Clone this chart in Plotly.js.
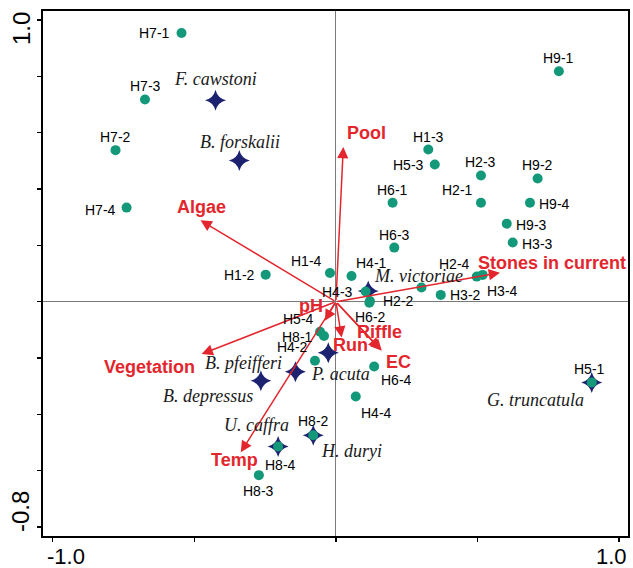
<!DOCTYPE html>
<html>
<head>
<meta charset="utf-8">
<script src="https://cdn.plot.ly/plotly-3.0.1.min.js"></script>
<style>html,body{margin:0;padding:0;background:#fff;}#chart{width:633px;height:568px;}</style>
</head>
<body>
<div id="chart"></div>
<script>
// ---- Site scores (green dots) ----
const siteNames = ["H7-1","H7-3","H7-2","H7-4","H1-2","H1-4","H4-1","H4-3","H2-2","H6-2","","H3-2","H2-4","H3-4","H6-3","H6-1","H1-3","H5-3","H2-3","H2-1","H9-2","H9-4","H9-3","H3-3","H9-1","H5-4","H8-1","H4-2","H6-4","H4-4","H5-1","H8-2","H8-4","H8-3"];
const siteX = [-0.545,-0.674,-0.778,-0.739,-0.248,-0.021,0.055,0.105,0.120,0.118,0.302,0.370,0.497,0.518,0.206,0.200,0.326,0.349,0.512,0.512,0.712,0.685,0.603,0.624,0.787,-0.056,-0.042,-0.074,0.135,0.070,0.903,-0.080,-0.204,-0.272];
const siteY = [0.954,0.718,0.538,0.334,0.096,0.102,0.091,0.036,0.002,-0.004,0.050,0.024,0.089,0.095,0.192,0.351,0.540,0.487,0.448,0.351,0.437,0.351,0.277,0.210,0.818,-0.107,-0.122,-0.210,-0.230,-0.337,-0.287,-0.474,-0.514,-0.616];
// label offsets in pixels (dx right, dy down)
const siteLabDx = [-27,1,0,-26,-26,-23,20,-28,29,1,0,25,-22,20,0,0,0,-26,0,-23,0,25,25,25,0,-22,-27,-22,22,21,-2,0,2,0];
const siteLabDy = [0,-13,-13,2,0,-12,-13,0,0,14,0,0,-13,16,-13,-13,-13,0,-13,-13,-14,1,1,1,-13,-13,1,-14,14,16,-14,-14,19,16];

// ---- Species scores (navy stars) ----
const speciesNames = ["F. cawstoni","B. forskalii","M. victoriae","P. acuta","B. pfeifferi","B. depressus","G. truncatula","H. duryi","U. caffra"];
const speciesX = [-0.425,-0.341,0.114,-0.027,-0.143,-0.265,0.903,-0.080,-0.204];
const speciesY = [0.715,0.501,0.038,-0.181,-0.249,-0.281,-0.287,-0.474,-0.514];
const speciesLabDx = [0,1,50,12,-52,-53,-56,38,-22];
const speciesLabDy = [-21,-19,-15,21,-9,15,17,16,-21];

// ---- Environmental vectors (red arrows) ----
const envNames = ["Algae","Pool","Stones in current","Vegetation","Temp","pH","Run","Riffle","EC"];
const envX = [-0.478,0.026,0.579,-0.474,-0.336,-0.039,0.020,0.155,0.162];
const envY = [0.289,0.549,0.103,-0.186,-0.535,-0.068,-0.127,-0.169,-0.174];
const envLabDx = [1,23,52,-52,-6,-14,9,0,17];
const envLabDy = [-13,-14,-10,13,8,-15,8,-17,11];

// ---- Axis ticks ----
const xTickVals = [-1.0,-0.5,0,0.5,1.0];
const xLabelVals = [-1.0, 1.0];
const xLabelText = ["-1.0", "1.0"];
const yTickVals = [1.0,0.8,0.6,0.4,0.2,0,-0.2,-0.4,-0.6,-0.8];
const yLabelVals = [1.0, -0.8];
const yLabelText = ["1.0", "-0.8"];
// pixel nudges of the end labels (as in the original figure)
const xLabelShift = [13, -8];
const yLabelShift = [-9, 15];

const RED = "#e3262d";
const GREEN = "#13997a";
const NAVY = "#1d2270";
const SANS = "Liberation Sans, Arial, sans-serif";

const traces = [
  {
    type: "scatter", mode: "markers", x: speciesX, y: speciesY, text: speciesNames,
    marker: {symbol: "star-diamond", size: 15, color: NAVY, line: {width: 0}},
    hoverinfo: "text", cliponaxis: false
  },
  {
    type: "scatter", mode: "markers", x: siteX, y: siteY, text: siteNames,
    marker: {symbol: "circle", size: 10, color: GREEN, line: {width: 0}},
    hoverinfo: "text", cliponaxis: false
  }
];

const annotations = [];
// arrows
envNames.forEach((n, i) => {
  annotations.push({
    x: envX[i], y: envY[i], xref: "x", yref: "y",
    ax: 0, ay: 0, axref: "x", ayref: "y",
    text: "", showarrow: true, arrowhead: 2, arrowsize: 1.5, arrowwidth: 1.5,
    arrowcolor: RED, standoff: 0, startstandoff: 0
  });
});
// env labels
envNames.forEach((n, i) => {
  annotations.push({
    x: envX[i], y: envY[i], xref: "x", yref: "y", text: "<b>" + n + "</b>",
    showarrow: false, xanchor: "center", yanchor: "middle",
    xshift: envLabDx[i], yshift: -envLabDy[i],
    font: {family: SANS, size: 18, color: RED}
  });
});
// site labels
siteNames.forEach((n, i) => {
  if (!n) return;
  annotations.push({
    x: siteX[i], y: siteY[i], xref: "x", yref: "y", text: n,
    showarrow: false, xanchor: "center", yanchor: "middle",
    xshift: siteLabDx[i], yshift: -siteLabDy[i],
    font: {family: SANS, size: 14, color: "#000"}
  });
});
// species labels
speciesNames.forEach((n, i) => {
  annotations.push({
    x: speciesX[i], y: speciesY[i], xref: "x", yref: "y", text: "<i>" + n + "</i>",
    showarrow: false, xanchor: "center", yanchor: "middle",
    xshift: speciesLabDx[i], yshift: -speciesLabDy[i],
    font: {family: "Liberation Serif, Times New Roman, serif", size: 18, color: "#1a1a1a"}
  });
});
// axis end labels
xLabelVals.forEach((v, i) => {
  annotations.push({
    x: v, y: 0, xref: "x", yref: "paper", text: xLabelText[i],
    showarrow: false, xanchor: "center", yanchor: "top",
    xshift: xLabelShift[i], yshift: -6,
    font: {family: SANS, size: 22, color: "#000"}
  });
});
yLabelVals.forEach((v, i) => {
  annotations.push({
    x: 0, y: v, xref: "paper", yref: "y", text: yLabelText[i],
    showarrow: false, xanchor: "center", yanchor: "middle", textangle: -90,
    xshift: -22, yshift: yLabelShift[i],
    font: {family: SANS, size: 24, color: "#000"}
  });
});

const layout = {
  width: 633, height: 568,
  margin: {l: 43, r: 5, t: 11, b: 32, pad: 0},
  paper_bgcolor: "#fff", plot_bgcolor: "#fff",
  showlegend: false,
  xaxis: {
    range: [-1.034, 1.031], tickmode: "array", tickvals: xTickVals, showticklabels: false,
    showgrid: false, zeroline: true, zerolinecolor: "#7a7a7a", zerolinewidth: 1,
    showline: true, mirror: true, linecolor: "#000", linewidth: 2,
    ticks: "outside", ticklen: 4, tickwidth: 1.5, tickcolor: "#000"
  },
  yaxis: {
    range: [-0.832, 1.032], tickmode: "array", tickvals: yTickVals, showticklabels: false,
    showgrid: false, zeroline: true, zerolinecolor: "#7a7a7a", zerolinewidth: 1,
    showline: true, mirror: true, linecolor: "#000", linewidth: 2,
    ticks: "outside", ticklen: 4, tickwidth: 1.5, tickcolor: "#000"
  },
  annotations: annotations
};

Plotly.newPlot("chart", traces, layout, {displayModeBar: false, staticPlot: true});
</script>
</body>
</html>
